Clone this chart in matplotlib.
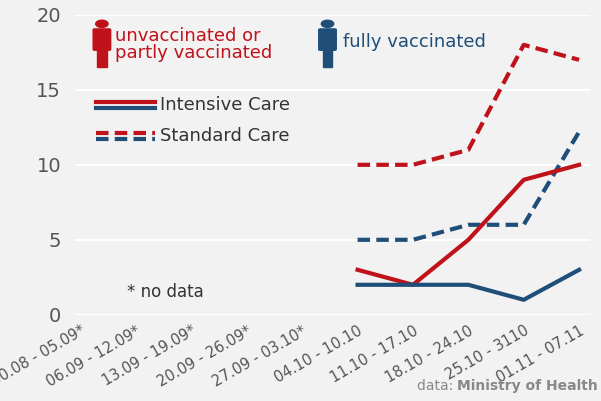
import matplotlib
matplotlib.use("Agg")
import matplotlib.pyplot as plt
from matplotlib.patches import Circle, FancyBboxPatch, Rectangle
import numpy as np

weeks = ["30.08 - 05.09*", "06.09 - 12.09*", "13.09 - 19.09*", "20.09 - 26.09*",
         "27.09 - 03.10*", "04.10 - 10.10", "11.10 - 17.10", "18.10 - 24.10",
         "25.10 - 3110", "01.11 - 07.11"]
unvacc_ic = [None]*5 + [3, 2, 5, 9, 10]
unvacc_std = [None]*5 + [10, 10, 11, 18, 17]
vacc_ic = [None]*5 + [2, 2, 2, 1, 3]
vacc_std = [None]*5 + [5, 5, 6, 6, 12.2]

RED = "#c0121b"
BLUE = "#1f4e79"
GRAY = "#555555"

fig = plt.figure(figsize=(6.01, 4.01), dpi=100)
fig.patch.set_facecolor("#f2f2f2")
ax = fig.add_axes([0.125, 0.215, 0.857, 0.748])
ax.set_facecolor("#f2f2f2")
x = np.arange(len(weeks))

for vals, c, ls in [(unvacc_std, RED, "--"), (vacc_std, BLUE, "--"),
                    (unvacc_ic, RED, "-"), (vacc_ic, BLUE, "-")]:
    xs = [i for i, v in enumerate(vals) if v is not None]
    ys = [v for v in vals if v is not None]
    if ls == "--":
        ax.plot(xs, ys, color=c, lw=3, dashes=(3, 1.5))
    else:
        ax.plot(xs, ys, color=c, lw=3)

ax.set_ylim(0, 20)
ax.set_xlim(-0.1, 9.2)
ax.set_yticks([0, 5, 10, 15, 20])
ax.yaxis.grid(True, color="white", lw=1.5)
ax.set_axisbelow(True)
for s in ax.spines.values():
    s.set_visible(False)
ax.tick_params(axis="y", length=0, labelsize=14, labelcolor=GRAY, pad=10)
ax.tick_params(axis="x", length=0, labelsize=10.5, labelcolor=GRAY, pad=6)
ax.set_xticks(x)
ax.set_xticklabels(weeks, rotation=30, ha="right", rotation_mode="anchor")

def person(xc, yb, color):
    t = ax.transAxes
    ax.add_patch(Circle((xc, yb + 0.135), 0.012, color=color, transform=t, clip_on=False))
    ax.add_patch(FancyBboxPatch((xc - 0.014, yb + 0.05), 0.028, 0.065,
                                boxstyle="round,pad=0.003", color=color, transform=t, clip_on=False))
    ax.add_patch(Rectangle((xc - 0.009, yb - 0.01), 0.018, 0.07, color=color, transform=t, clip_on=False))

person(0.052, 0.835, RED)
person(0.49, 0.835, BLUE)
ax.text(0.078, 0.9, "unvaccinated or\npartly vaccinated", transform=ax.transAxes,
        color=RED, fontsize=13, va="center", linespacing=0.95)
ax.text(0.52, 0.91, "fully vaccinated", transform=ax.transAxes,
        color=BLUE, fontsize=13, va="center")

ax.plot([0.04, 0.155], [0.71, 0.71], transform=ax.transAxes, color=RED, lw=3)
ax.plot([0.04, 0.155], [0.69, 0.69], transform=ax.transAxes, color=BLUE, lw=3)
ax.plot([0.04, 0.155], [0.605, 0.605], transform=ax.transAxes, color=RED, lw=3, dashes=(3, 1.5))
ax.plot([0.04, 0.155], [0.585, 0.585], transform=ax.transAxes, color=BLUE, lw=3, dashes=(3, 1.5))
ax.text(0.165, 0.70, "Intensive Care", transform=ax.transAxes, fontsize=13, color="#333333", va="center")
ax.text(0.165, 0.595, "Standard Care", transform=ax.transAxes, fontsize=13, color="#333333", va="center")

ax.text(0.1, 0.06, "* no data", transform=ax.transAxes, fontsize=12, color="#333333")
tb = fig.text(0.995, 0.02, "Ministry of Health", ha="right", va="bottom", fontsize=10,
              color="#888888", fontweight="bold")
fig.canvas.draw()
ax.annotate("data: ", xy=(0, 0), xycoords=tb, ha="right", va="bottom",
            fontsize=10, color="#888888", annotation_clip=False)

fig.savefig("out.png", dpi=100, facecolor=fig.get_facecolor())
